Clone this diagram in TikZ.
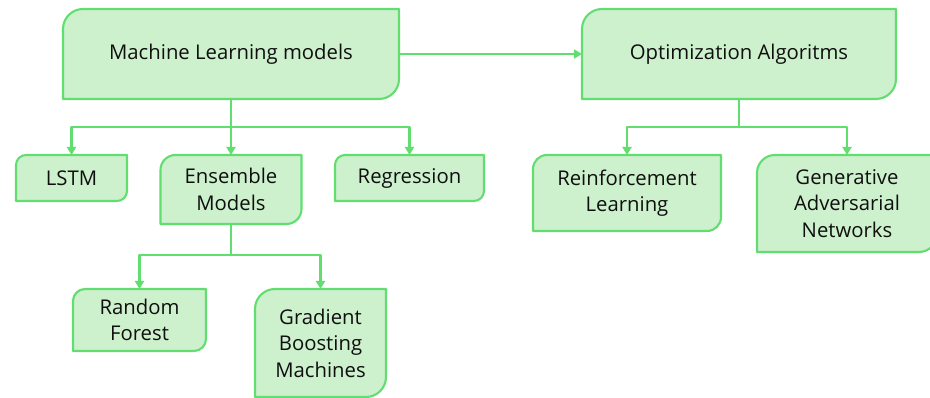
\documentclass[tikz,border=0pt]{standalone}
\usepackage{fontspec}
\setmainfont{Open Sans}
\usetikzlibrary{arrows.meta}
\definecolor{gline}{RGB}{98,222,112}
\definecolor{gfill}{RGB}{205,240,205}
\definecolor{gtext}{RGB}{15,15,15}
\pgfdeclarelayer{background}
\pgfdeclarelayer{bottom}
\pgfsetlayers{bottom,background,main}
\tikzset{
  gbox/.style={inner sep=0pt, outer sep=0pt, align=center, text=gtext,
    font=\fontsize{20.3}{26.5}\selectfont},
  boxline/.style={draw=gline, fill=gfill, line width=2.1pt, line join=round},
  conn/.style={draw=gline, line width=2.1pt, line join=round},
  arr/.style={conn, -{Triangle[length=8pt,width=9pt]}},
}
\newcommand\shapebox[2]{%
  \begin{pgfonlayer}{background}
  \path[boxline] ([yshift=-#2]#1.north west) arc[start angle=180,end angle=90,radius=#2]
    -- (#1.north east) -- ([yshift=#2]#1.south east)
    arc[start angle=0,end angle=-90,radius=#2] -- (#1.south west) -- cycle;
  \end{pgfonlayer}}
\begin{document}
\begin{tikzpicture}[x=1pt,y=1pt]
\useasboundingbox (0,0) rectangle (930,398);
\begin{pgfonlayer}{bottom}
\fill[white] (0,0) rectangle (930,398);
\end{pgfonlayer}
\node[gbox, minimum width=336pt, minimum height=90pt] (ml) at (231,344) {Machine Learning models};
\node[gbox, minimum width=314pt, minimum height=90pt] (opt) at (739,344) {Optimization Algoritms};
\node[gbox, minimum width=111pt, minimum height=46pt] (lstm) at (71.5,220) {LSTM};
\node[gbox, minimum width=141pt, minimum height=69pt] (ens) at (231,208.5) {Ensemble\\Models};
\node[gbox, minimum width=149pt, minimum height=46pt] (reg) at (409.5,220) {Regression};
\node[gbox, minimum width=188pt, minimum height=76pt] (rl) at (627,205) {Reinforcement\\Learning};
\node[gbox, minimum width=180pt, minimum height=97pt] (gan) at (847,194.5) {Generative\\Adversarial\\Networks};
\node[gbox, minimum width=133pt, minimum height=62pt] (rf) at (139.5,78) {Random\\Forest};
\node[gbox, minimum width=131pt, minimum height=108pt] (gbm) at (320.5,55) {Gradient\\Boosting\\Machines};
\shapebox{ml}{20pt}
\shapebox{opt}{20pt}
\shapebox{lstm}{10pt}
\shapebox{ens}{15pt}
\shapebox{reg}{10pt}
\shapebox{rl}{14pt}
\shapebox{gan}{18pt}
\shapebox{rf}{12pt}
\shapebox{gbm}{20pt}
\coordinate (b1) at (231,271);
\coordinate (b2) at (739,271);
\coordinate (b3) at (231,143);
\draw[arr] (ml.east) -- (opt.west);
\draw[conn] (ml.south) -- (b1);
\draw[arr] (b1) -| (lstm.north);
\draw[arr] (b1) -| (reg.north);
\draw[arr] (b1) -- (ens.north);
\draw[conn] (opt.south) -- (b2);
\draw[arr] (b2) -| (rl.north);
\draw[arr] (b2) -| (gan.north);
\draw[conn] (ens.south) -- (b3);
\draw[arr] (b3) -| (rf.north);
\draw[arr] (b3) -| (gbm.north);
\end{tikzpicture}
\end{document}
